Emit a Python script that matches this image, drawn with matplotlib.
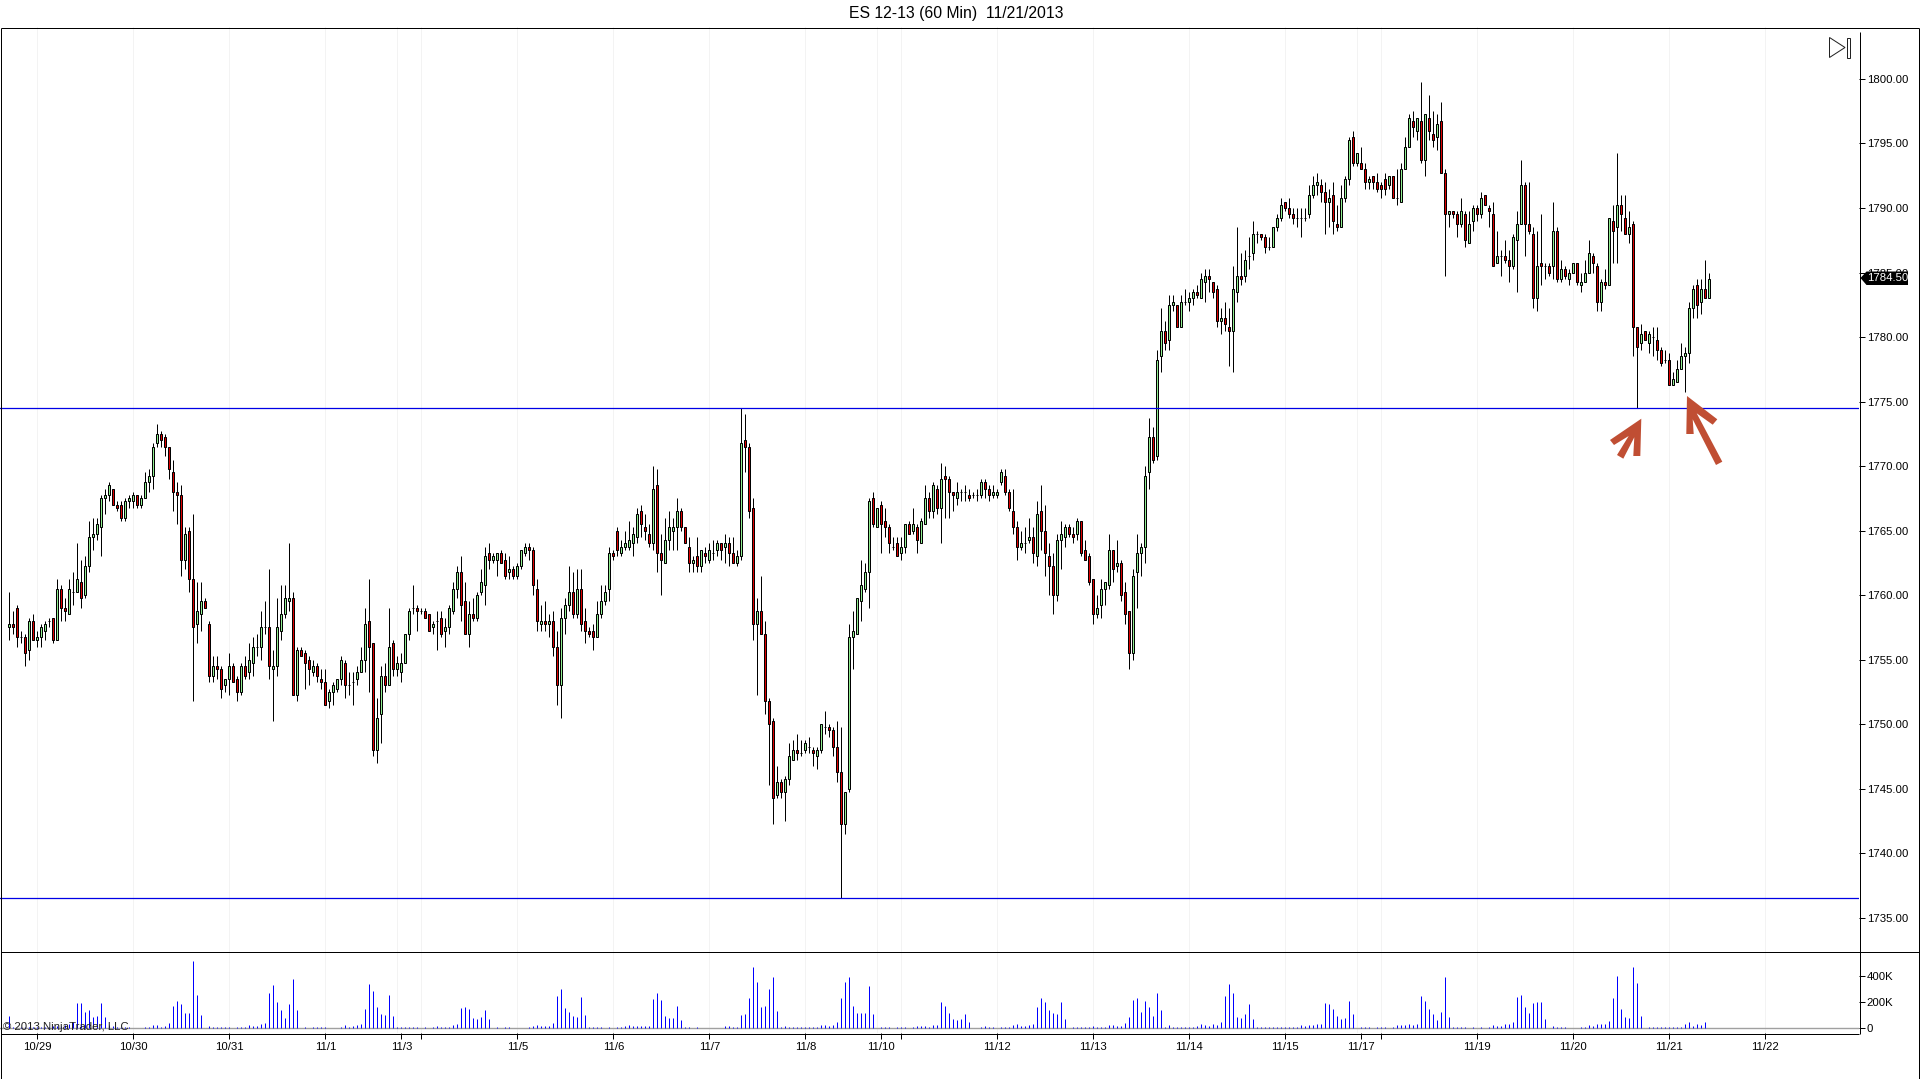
import numpy as np
import matplotlib
matplotlib.use("Agg")
import matplotlib.pyplot as plt
from matplotlib.patches import Polygon, Rectangle

plt.rcParams['font.family'] = ['Liberation Sans', 'DejaVu Sans']

# ES 12-13 60 min bars
highs = [
1760.25,1758.75,1759.25,1757.25,1757,1758.25,1758.5,1757.25,1757.75,1758,
1758.25,1758.25,1761.25,1760.75,1759.75,1761.25,1761.75,1764,1762.75,1763,
1765.75,1766,1766,1767.75,1768.25,1768.75,1768.25,1767.25,1767.25,1767.5,
1767.75,1768,1767.75,1767.75,1769.5,1769.75,1771.75,1773.25,1772.75,1772.5,
1771.5,1770.5,1768.75,1768.5,1765.25,1765.25,1766.25,1761,1761,1759.75,
1758,1755.25,1755.25,1754.5,1753.5,1755.5,1754.75,1753.75,1754.75,1755.25,
1756.25,1756.75,1757,1758.75,1759.5,1762,1755.75,1759.75,1760.75,1760.75,
1764,1760.25,1756,1756,1755.75,1755.25,1755,1754.75,1754.25,1754.25,
1752.75,1753.25,1753.5,1755.25,1755,1754,1754,1754.5,1756,1759,
1761.25,1756.25,1752,1754.5,1754.75,1759,1756.5,1755.25,1755.5,1757,
1759,1760.75,1759.25,1759,1759,1758.5,1758,1758.75,1758.75,1758.25,
1759.25,1761,1762.25,1763,1761,1759.5,1759.75,1760.25,1762,1763.75,
1764,1763.25,1763.25,1763.5,1763.25,1763,1762.25,1762.5,1763.5,1764,
1764,1763.75,1761.25,1759.25,1759.5,1758.5,1758.75,1757.25,1759,1759.75,
1762.25,1761.75,1762,1762,1759,1757.5,1757.75,1759.5,1760.75,1760.75,
1763.75,1763.5,1765.25,1764.25,1765,1765.75,1765.25,1766.75,1767,1766.25,
1765.5,1770,1769.75,1764.75,1766,1766.5,1766,1767.5,1766.75,1765.25,
1764.5,1763,1764.5,1763.5,1763.75,1764,1764.25,1764.25,1764,1764.75,
1764.5,1764.5,1763.5,1774.5,1774,1771.75,1767.5,1759.75,1761.5,1758,
1752,1750.5,1746.75,1745.75,1746,1748.5,1748.75,1749.25,1748.75,1748.75,
1749,1748.25,1748.25,1750,1751,1750,1749.75,1750.25,1749.75,1744.75,
1757.75,1758.75,1759.75,1762.75,1762.5,1767.5,1768,1766.75,1767.25,1766.75,
1765.5,1764.5,1764.5,1764.5,1765.5,1765.75,1766.75,1765.5,1766,1768.5,
1768,1768.75,1768.5,1770.25,1770,1769.25,1768,1768.75,1768.25,1768.5,
1768.25,1768,1768.25,1769,1769,1768.5,1768.5,1768.25,1769.75,1769.75,
1768.25,1768.25,1765.75,1765,1765.25,1766,1765.25,1767.25,1768.5,1767,
1764,1763.25,1764.75,1765.75,1765.5,1765.5,1765.25,1766,1765.75,1764.25,
1763.25,1761.25,1760,1761.25,1761,1764.75,1763.5,1764.25,1762.75,1761,
1758.75,1762,1764.75,1764,1770,1773.75,1773,1779,1782.25,1781.25,
1783.25,1783.25,1782.5,1783.25,1783.75,1783.5,1783.75,1784,1785,1785.25,
1785.25,1784.25,1784,1782.25,1782.75,1782.25,1785.5,1788.5,1786.5,1786.75,
1787.75,1789,1788.25,1788,1788,1787.75,1788.5,1789.5,1790.75,1790.5,
1790.75,1790,1790,1790,1790,1791.75,1792.5,1792.75,1792.25,1792,
1791.5,1792,1790.25,1791.75,1792.5,1795.5,1796,1794.25,1794.75,1793.5,
1792.5,1792.5,1792.75,1792,1792.75,1792.5,1792.5,1793,1793.5,1795.5,
1797.25,1797.5,1797,1799.75,1797.25,1798.75,1797.5,1797.25,1798.25,1793,
1789.75,1789.75,1789.75,1790.75,1789.75,1789.75,1790.25,1790.25,1791.25,1791,
1790.25,1790.5,1788.25,1786.75,1787.5,1786.75,1788,1789.75,1793.75,1792,
1792,1788.5,1788.25,1789.5,1785.75,1785.75,1790.5,1788.5,1786,1785.5,
1785.25,1785.75,1785.75,1785,1786,1787.5,1786.5,1785.75,1784.5,1785.25,
1789.25,1790.25,1794.25,1791,1791,1789.75,1789,1780.75,1781,1780.5,
1780.5,1780.75,1780.75,1779.25,1779,1778.75,1777.25,1778.25,1779.5,1779.25,
1782.75,1784,1784.5,1784.5,1786,1785]

body_tops = [
1757.75,1757.75,1759,1756.75,1756.75,1758,1758,1756.75,1757.5,1757.75,
1758,1758.25,1760.5,1760.5,1759,1760.5,1760.25,1761.25,1761,1762.25,
1764.5,1764.75,1765.5,1767.5,1767.75,1768.5,1768.25,1767,1767,1767.25,
1767.5,1767.75,1767.75,1767.5,1768.75,1769.25,1771.5,1772.5,1772.5,1772.25,
1771.5,1769.5,1768,1767.75,1764.75,1765,1761.25,1758.75,1759.5,1759.5,
1757.75,1754.5,1754.5,1754.25,1753.5,1754.5,1754.5,1753.5,1754.5,1754.5,
1755,1756,1756,1757.5,1757.5,1757.5,1754.5,1757.5,1758.5,1759.75,
1759.75,1759.75,1755.75,1755.75,1755.5,1755,1754.5,1754.5,1753.5,1753.25,
1752.5,1753,1753.5,1755,1754.75,1753,1753.25,1754,1755,1757.75,
1758,1756.25,1750.5,1753.75,1753.75,1756,1756.25,1754.75,1754.75,1757,
1758.75,1759,1759,1758.75,1758.75,1758.5,1757.75,1758,1758.25,1757.5,
1759,1760.5,1761.75,1761.75,1759.5,1758.5,1758.5,1760,1761,1763,
1763.25,1763,1763.25,1763.25,1762.75,1762,1762,1762.25,1763.5,1763.75,
1763.75,1763.5,1760.5,1758,1758,1758,1758,1756,1758.25,1759.25,
1760.25,1760.25,1760.5,1760.5,1758,1757.25,1757.25,1758.5,1759.5,1760.25,
1763.25,1763.25,1765,1763.75,1764,1764.25,1764.75,1766.25,1766.5,1765.25,
1764.75,1768.25,1768.5,1763.25,1764.25,1765.25,1765.25,1766.5,1766.5,1765.25,
1763.75,1762.75,1763,1763.5,1763.25,1763.5,1763.25,1764,1764,1764,
1764,1763.25,1763,1771.75,1772,1771.5,1766.75,1758.75,1758.75,1757,
1751.75,1750.25,1745.5,1745.5,1745.75,1747.5,1748,1748,1747.75,1748.5,
1748.25,1748,1748,1750,1749.75,1749.75,1749.5,1748.25,1746.25,1744.75,
1756.75,1757.25,1759.75,1760.75,1761.75,1767.25,1767.5,1766.75,1767,1765.75,
1765.25,1763.75,1764,1763.75,1765.5,1765.5,1765.5,1765.25,1765.75,1767.5,
1767.5,1768.5,1768.25,1769,1769.25,1769,1768,1768,1768,1768,
1767.75,1767.75,1767.75,1768.75,1768.75,1768.25,1768,1768,1769.5,1769.25,
1768,1766.5,1765.25,1764,1764,1764.5,1764.5,1766.25,1766.5,1765,
1763,1762.25,1764.25,1764.75,1765.25,1765.25,1764.75,1765.75,1765.75,1763.5,
1763,1761.25,1759,1760.5,1761,1763.5,1763.5,1762.5,1762.5,1760.25,
1758.75,1761.5,1763.25,1763.75,1769.25,1772.25,1772.25,1778.25,1780.5,1780.5,
1782.5,1782.75,1782.5,1782.75,1782.75,1783,1783.5,1783.5,1784.5,1784.75,
1784.75,1784.25,1783.75,1781.5,1781.5,1780.75,1783.75,1784.75,1784.75,1786,
1786.25,1788,1788,1788,1787.75,1787,1788.5,1789.25,1790.25,1790.5,
1790,1789.5,1789.25,1789.25,1789.25,1791,1791.75,1792,1791.75,1791.25,
1790.75,1791,1788.75,1790.75,1792.25,1795.25,1795.5,1794.25,1793.5,1793,
1792.25,1792.5,1792,1791.75,1792.25,1792.5,1792.5,1790.75,1793,1794.75,
1797,1796.75,1797,1796.75,1797.25,1797,1795.75,1796.5,1796.75,1792.75,
1789.75,1789.75,1789.5,1789.75,1789.5,1788.75,1790,1790,1790.75,1791,
1790,1789.5,1786.25,1786.25,1786.25,1786,1787.75,1788.75,1791.75,1791.75,
1788.75,1788,1785.5,1785.75,1785.5,1785.5,1788.25,1788.25,1785.25,1785.25,
1785,1785.75,1785.75,1784.25,1785,1786.5,1786.25,1785.5,1784.25,1784.25,
1789.25,1789,1790.25,1790.25,1789.25,1788.5,1788.75,1780.75,1780.25,1780.5,
1780.25,1780,1779.75,1779,1778.25,1778.25,1776.75,1777.5,1778.5,1778.75,
1782.25,1783.75,1784,1783.75,1783.75,1784.5]

body_bots = [
1757.5,1757.5,1756.75,1756.75,1755.5,1755.75,1756.5,1756.5,1756.75,1757.25,
1758,1756.5,1756.5,1759,1758.75,1758.5,1760.25,1760.25,1759.75,1760,
1762.25,1764.5,1764.75,1765.25,1767.5,1767.75,1767,1766.75,1766,1766,
1767.25,1767.25,1767,1767,1767.5,1768.75,1769.25,1771.75,1772,1771.5,
1769.75,1768,1767.75,1762.75,1762.75,1761.25,1757.5,1757.75,1758.5,1759,
1753.75,1753.75,1754.25,1752.75,1753,1753.5,1753.25,1752.5,1752.5,1753.75,
1754,1754.75,1756,1756,1757.5,1754.5,1754.25,1754.5,1757.25,1758.5,
1759.5,1752.25,1752.25,1755.25,1754.75,1754.25,1754,1753.75,1753.25,1751.5,
1751.75,1752.5,1752.75,1753.5,1753,1753,1753.25,1753.5,1754,1755,
1756,1748,1748,1750.75,1753,1753,1754.25,1754.25,1754,1754.75,
1757,1759,1758.75,1758.75,1758.25,1757.25,1757.5,1758,1757,1757.25,
1757.5,1758.75,1760.5,1759.25,1757,1757,1758.25,1758.25,1760.25,1760.75,
1762.75,1762.75,1762.75,1762.5,1761.5,1761.75,1761.5,1761.5,1762.25,1763.25,
1763.5,1760.75,1758,1757.75,1757.75,1757.75,1756,1753,1753,1758.25,
1759.25,1758.5,1758.5,1757.75,1757.25,1757,1756.75,1756.75,1758.5,1759.5,
1760.5,1763,1763.5,1763.25,1763.75,1763.75,1764,1764.5,1765.5,1765,
1764,1764,1763.25,1762.75,1762.5,1764.25,1765,1765.25,1765.25,1764,
1762.5,1762.5,1762.25,1762.25,1763,1762.75,1763.25,1763.5,1763.5,1763.75,
1763.25,1762.5,1762.5,1763,1771.5,1766.5,1757.75,1757.75,1757,1751.75,
1750,1744.25,1744.5,1744.75,1744.75,1745.75,1747.25,1747.75,1747.75,1748,
1748.25,1747.75,1747.5,1748,1749.75,1749.5,1748.25,1746.25,1742.25,1742.25,
1745,1756.75,1757,1759.5,1760.5,1761.75,1765.5,1765.25,1765.5,1765.25,
1764,1763.75,1763,1763.25,1763.75,1764.75,1765,1764.25,1764,1765.5,
1766.5,1766.5,1766.75,1766.75,1769,1768,1767.75,1767.5,1768,1768,
1767.5,1767.75,1767.75,1767.75,1768.25,1767.75,1767.75,1767.75,1768.75,1768,
1766.75,1765.25,1763.75,1763.75,1764,1764.25,1763.25,1763,1765,1763.25,
1762.25,1760,1760,1764.25,1764.5,1764.75,1764.5,1764.75,1763.25,1762.75,
1761,1758.5,1758.5,1759.25,1760.5,1760.75,1762,1762.25,1760,1758.5,
1755.5,1755.5,1761.75,1763.25,1763.75,1769.5,1770.5,1770.75,1778.5,1779.5,
1779.75,1782.5,1780.75,1780.75,1782.75,1782.75,1783,1783.25,1783,1784.25,
1784.5,1783.5,1781.25,1781.25,1781,1780.5,1780.5,1783.5,1784.5,1784.75,
1786.25,1786.5,1788,1787.75,1787,1787,1787,1788.5,1789.25,1790,
1789.5,1789.25,1789.25,1789.25,1789.25,1789.5,1791,1791.75,1791.25,1790.5,
1790.5,1789,1788.5,1788.5,1790.75,1792.25,1793.5,1793.5,1793,1792,
1792,1792,1791.5,1791.5,1791.5,1791.75,1790.75,1790.75,1790.5,1793,
1794.75,1796.25,1796,1793.75,1793.75,1796,1795.25,1795.5,1792.75,1789.5,
1789.5,1789.5,1788.75,1788.75,1787.5,1787.25,1789,1789.5,1789.5,1790.25,
1789.75,1785.5,1785.75,1786.25,1786,1785.5,1785.5,1787.5,1788.75,1788.75,
1788.25,1783,1783,1785.5,1785.5,1785,1785.5,1784.5,1784.5,1784.75,
1784.5,1785,1784.25,1784,1784.25,1785,1785.75,1782.75,1782.75,1784,
1784,1788.25,1788.5,1789.5,1788,1788,1780.75,1779.25,1779.5,1779.75,
1779.5,1780,1779,1778,1778.25,1776.25,1776.25,1776.5,1777.5,1778.5,
1778.75,1782.25,1782.5,1782.75,1783,1783]

lows = [
1756.5,1757,1756,1756.25,1754.5,1755,1756.5,1756,1756,1756.5,
1757.5,1756.25,1756.5,1758,1758,1758.5,1759.25,1760.25,1759,1759.75,
1761.75,1763.5,1764.25,1763,1766.25,1767.25,1767,1766.5,1765.75,1765.75,
1766.75,1766.75,1766.75,1766.75,1767.5,1768,1768.25,1771.5,1771.5,1770.75,
1769,1766.5,1765.5,1761.5,1762,1760.25,1751.75,1756.25,1757.25,1759,
1753.25,1753.25,1753.5,1752,1752.5,1752.25,1753.25,1751.75,1752.25,1753.5,
1753.5,1753.75,1755.25,1755,1757,1753.5,1750.25,1753.75,1756.5,1758.25,
1758.75,1752.25,1751.75,1755.25,1752.75,1753,1753.75,1753.25,1752.75,1751.5,
1751.25,1751.5,1752.5,1753,1752,1752.25,1751.5,1753,1754,1754,
1752.5,1747.5,1747,1748.5,1752.5,1753,1753.75,1753.75,1753.25,1754.75,
1756.5,1758.5,1757.25,1758.5,1758.25,1757.25,1757,1755.75,1756.75,1756,
1757,1758.5,1759.75,1758,1757,1756,1758,1758,1760,1759.25,
1762,1762.5,1761.5,1762.5,1761.25,1761.25,1761.25,1761.25,1762,1763,
1762.75,1760,1757.25,1757.25,1757.25,1756.75,1755.25,1751.5,1750.5,1757,
1758.75,1758.25,1758.25,1757.25,1756.25,1756.75,1755.75,1756.75,1758.25,1759.25,
1759.5,1762.75,1763,1763,1763.5,1763.5,1763,1764,1764.5,1764.25,
1763.75,1763.5,1761.75,1760,1762.5,1763.5,1763.5,1763.5,1765,1764,
1761.75,1761.75,1761.75,1761.75,1762.5,1762.5,1762.75,1763,1762.75,1762.5,
1762.25,1762.5,1762.25,1762.75,1769.5,1766,1756.5,1752.25,1757,1750.75,
1745.25,1742.25,1744.25,1744.25,1742.5,1745.25,1747.25,1747.25,1747.5,1747.75,
1747.75,1746.75,1746.5,1747.75,1749.25,1749,1747.5,1745.5,1736.5,1741.5,
1744.75,1754.25,1757,1758,1760.25,1759,1765.25,1765.25,1763.25,1764.5,
1763.25,1763.5,1763,1762.75,1763.25,1764.75,1764.75,1763.25,1764,1765.5,
1766,1766,1766.25,1764,1766,1766,1766.5,1767,1767.25,1767.25,
1767.25,1767.5,1767.25,1767.5,1767.5,1767.25,1767.5,1767.5,1768.5,1767.75,
1766.5,1764.75,1762.75,1763.5,1763.25,1764,1762.5,1762.25,1763.5,1761.5,
1760,1758.5,1759.5,1762,1763.75,1764.5,1764,1764.25,1763,1762.75,
1760.75,1757.75,1758.25,1758.25,1759.25,1760.5,1761,1761.75,1759.5,1757.75,
1754.25,1755,1759,1761.5,1762.5,1768.25,1770.25,1770.5,1777.25,1779,
1779,1782,1780.75,1780.75,1782.5,1782,1782.5,1783,1783,1782.75,
1783.5,1783,1780.75,1780.25,1780.5,1777.75,1777.25,1782.75,1784,1784.25,
1785.25,1786,1787.25,1787.5,1786.5,1786.75,1787,1788.25,1789,1789.75,
1789.25,1788.75,1788.5,1787.75,1789,1789.25,1790.75,1791,1790.5,1788,
1788.5,1788,1788.25,1788.5,1790.5,1791.75,1793.25,1793.25,1793,1791.5,
1791.5,1791.5,1791.25,1790.75,1791,1791.5,1790.75,1790.25,1790.5,1793,
1794.75,1795.5,1795.25,1793.5,1792.5,1795.25,1794.75,1794.5,1792.75,1784.75,
1788.5,1789.25,1787.75,1788.5,1787,1787.25,1788.25,1789,1789.25,1790.25,
1788.5,1785.5,1785.75,1784.75,1785.75,1784.25,1785.25,1783.5,1788.75,1786.25,
1788,1782.25,1782,1784,1784.5,1784.75,1784.5,1784.25,1784.25,1784.5,
1784,1785,1784,1783.5,1784.25,1785,1785,1782,1782,1783.75,
1784,1785.75,1785.75,1788.25,1788,1787.25,1778.5,1774.5,1779,1779.75,
1778.75,1778.5,1778.25,1777.75,1778,1776.25,1776.25,1776.5,1777.5,1775.75,
1778,1781.5,1781.5,1781.75,1783,1783]

# G = close above open, R = close below open
bar_dirs = (
"GRRGRGRGGG" "GRGRRGGGRG" "GGGGGGRRRG" "GGRGGGGGRR" "RRRRGRRGGR"
"RGRRGGRRGR" "GGGGGRGGGG" "GRGRRRGRRR" "GGGGRGGGGG" "RRGGRGRGGG"
"GGRGRRGGRG" "GGGRRGRGGG" "RGGRRGRGGG" "RRRGRGRRGG" "GRGRRRRGGG"
"GRRGGGGGRR" "RGRRGGGGRR" "RGRGRGGGRG" "RRGGRRRGRR" "RRGRGGGRGG"
"GRGGGRRRRG" "GGGGGGRGRR" "RGRGGRGRGG" "RGRGRRRGGG" "RGGGRRGGGR"
"RRRGGGRGRR" "RRGGGRRGRR" "RRGGGGRGRR" "RGGGGGRGGR" "GGRGGGGRGG"
"RRRGRRGGRG" "GGGRRGGGGR" "RRGGGGGGRR" "GRRGGGRGRR" "GRRRRGRGGG"
"GRGRGRRGRR" "GRRGRGGRGR" "RRGGRRGGGR" "RRGRGRGRGR" "GGRGGGRRGR"
"GRGRRGRRGR" "GGRRGRGGGG" "GGRGRG")

volumes_k = [
94,10,0,10,10,10,10,10,10,10,
10,18,18,18,25,33,48,192,192,124,
139,84,94,192,86,25,18,10,10,10,
10,0,0,0,10,10,25,25,10,18,
40,170,207,185,116,116,511,253,101,0,
18,10,10,10,10,10,0,10,10,10,
25,18,18,28,40,268,329,200,139,78,
185,374,139,0,10,0,10,10,10,10,
0,0,0,10,25,10,18,25,33,147,
336,283,162,109,101,253,94,10,10,10,
10,10,10,0,10,0,10,18,10,10,
10,25,33,154,162,147,78,71,86,139,
71,0,10,0,10,10,0,0,0,0,
10,18,25,18,18,18,40,245,299,154,
124,94,86,238,101,10,10,10,10,0,
10,0,10,10,18,25,18,18,18,18,
18,223,268,215,94,78,78,170,63,10,
10,0,10,0,0,0,0,0,0,18,
18,10,10,101,109,230,465,352,162,170,
299,390,132,10,18,10,10,10,10,10,
10,10,10,25,25,18,25,48,230,352,
390,170,116,116,116,321,109,0,10,10,
10,0,10,10,10,0,10,18,18,18,
10,25,25,200,170,116,71,63,71,109,
48,0,0,10,18,10,10,0,10,10,
10,25,33,18,18,25,33,162,230,200,
139,116,109,200,71,0,10,10,10,10,
10,18,10,10,10,25,25,18,18,40,
86,215,230,124,207,162,94,268,139,10,
25,10,10,10,10,10,10,18,33,25,
18,33,25,48,245,336,268,86,78,109,
185,71,10,10,10,10,10,10,10,10,
10,10,10,25,18,25,25,33,33,192,
185,147,94,71,78,207,109,0,10,10,
10,0,10,10,10,0,10,25,25,25,
33,25,33,245,207,147,109,63,124,390,
86,10,10,10,10,0,10,0,10,0,
10,25,18,18,33,33,48,238,253,162,
116,192,200,200,71,0,18,10,10,10,
0,0,0,10,10,25,18,33,33,33,
56,230,397,147,86,78,465,344,94,0,
10,10,10,10,10,10,10,10,10,33,
48,18,33,25,48,0]

price_ticks = [1735, 1740, 1745, 1750, 1755, 1760, 1765, 1770, 1775, 1780, 1785, 1790, 1795, 1800]
volume_ticks = [0, 200, 400]
volume_tick_labels = ['0', '200K', '400K']
date_ticks = [7, 31, 55, 79, 98, 103, 127, 151, 175, 199, 218, 223, 247, 271, 295, 319, 338, 343, 367, 391, 415, 439]
date_labels = ['10/29', '10/30', '10/31', '11/1', '11/3', '', '11/5', '11/6', '11/7', '11/8', '11/10', '',
               '11/12', '11/13', '11/14', '11/15', '11/17', '', '11/19', '11/20', '11/21', '11/22']
grid_bars = [7, 31, 55, 79, 97, 103, 127, 151, 175, 199, 217, 223, 247, 271, 295, 319, 337, 343, 367, 391, 415, 439]
support_levels = [1774.5, 1736.5]
last_price = 1784.5

n = len(highs)
x = np.arange(n)
highs = np.array(highs, dtype=float)
lows = np.array(lows, dtype=float)
tops = np.array(body_tops, dtype=float)
bots = np.array(body_bots, dtype=float)
up = np.array([c == 'G' for c in bar_dirs])
volumes = np.array(volumes_k, dtype=float)

W, H = 1920, 1079
fig = plt.figure(figsize=(W / 100, H / 100), dpi=100)
px = 0.72  # one pixel in points


def axes_box(left, top, right, bottom):
    return [left / W, (H - bottom) / H, (right - left) / W, (bottom - top) / H]


ax = fig.add_axes(axes_box(0, 27, 1859, 952))
axv = fig.add_axes(axes_box(0, 952, 1859, 1033))
for a in (ax, axv):
    a.set_xlim(-2.33, 462.42)
    for s in a.spines.values():
        s.set_visible(False)
    a.yaxis.tick_right()
    for g in grid_bars:
        a.axvline(g, color='#F3F3F3', lw=px, zorder=0)

# price panel
ax.set_ylim(1732.33, 1804.03)
ax.vlines(x, lows, highs, color='black', lw=px, zorder=2, snap=True)
colors = np.where(up, '#90EE90', '#DC0000')
ax.bar(x, tops - bots, bottom=bots, width=0.5, color=colors, edgecolor='black', linewidth=px, zorder=3)
for lev in support_levels:
    ax.axhline(lev, color='#0000E6', lw=0.9, zorder=4)
ax.set_yticks(price_ticks)
ax.set_yticklabels(['%.2f' % p for p in price_ticks])
ax.set_xticks([])
ax.tick_params(axis='y', length=4.3, width=px, pad=1.2, labelsize=8.2)

# volume panel
axv.set_ylim(-38, 580)
axv.axhline(0, color='#A0A0A0', lw=1.0, zorder=1)
keep = volumes > 0
axv.vlines(x[keep], 0, volumes[keep], color='#0000FF', lw=px, zorder=2, snap=True)
axv.set_yticks(volume_ticks)
axv.set_yticklabels(volume_tick_labels)
axv.set_xticks(date_ticks)
axv.set_xticklabels(date_labels)
axv.tick_params(axis='y', length=4.3, width=px, pad=1.2, labelsize=8.2)
axv.tick_params(axis='x', length=4.3, width=px, pad=2.4, labelsize=8.2)

# overlay in pixel coordinates: frame, icon, price tag, arrows, texts
ov = fig.add_axes([0, 0, 1, 1], zorder=10)
ov.set_xlim(0, W)
ov.set_ylim(H, 0)
ov.axis('off')
ov.patch.set_alpha(0)
frame = [([0.5, 1918.5], [27.5, 27.5]), ([0.5, 1918.5], [952, 952]), ([0.5, 1859], [1033.5, 1033.5]),
         ([0.5, 1918.5], [1078.5, 1078.5]), ([0.5, 0.5], [27.5, 1078.5]), ([1918.5, 1918.5], [27.5, 1078.5]),
         ([1859.5, 1859.5], [32, 1033.5])]
for fx, fy in frame:
    ov.plot(fx, fy, color='black', lw=px, solid_capstyle='butt')

ov.add_patch(Polygon([(1829.5, 37.5), (1845, 47.5), (1829.5, 57.5)], closed=True, fill=False, edgecolor='#222222', lw=px))
ov.add_patch(Rectangle((1846.5, 37.5), 3, 20, fill=False, edgecolor='#222222', lw=px))

ov.add_patch(Polygon([(1860.5, 278), (1866.5, 271.5), (1908, 271.5), (1908, 285), (1866.5, 285)], closed=True, color='black', lw=0))
ov.text(1887.5, 278.3, '%.2f' % last_price, color='white', fontsize=8.2, ha='center', va='center')

arrow_red = '#C04E33'
ov.add_patch(Polygon([(1641.3, 418.7), (1640.3, 456), (1633.3, 456), (1634.3, 437.3), (1623.3, 458.7),
                      (1617, 455), (1628.7, 436), (1614, 445), (1610, 440)], closed=True, color=arrow_red, lw=0))
ov.add_patch(Polygon([(1687, 396), (1717.3, 419.3), (1712.7, 424.7), (1696.7, 413.3), (1722.3, 461.7),
                      (1716, 465), (1692.7, 419.3), (1693.7, 434), (1686.3, 434)], closed=True, color=arrow_red, lw=0))

ov.text(956, 13.5, 'ES 12-13 (60 Min)  11/21/2013', fontsize=11.3, ha='center', va='center', color='black')
ov.text(3, 1026.5, '\u00a9 2013 NinjaTrader, LLC', fontsize=8.2, ha='left', va='center', color='#202020')

fig.savefig('out.png', dpi=100)
